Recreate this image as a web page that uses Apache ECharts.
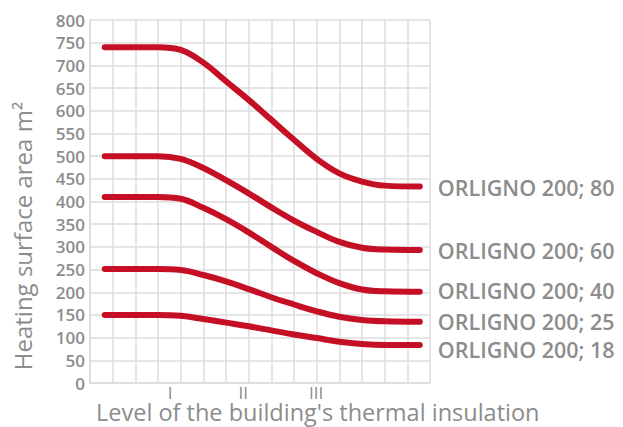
<!DOCTYPE html>
<html>
<head>
<meta charset="utf-8">
<script src="https://cdn.jsdelivr.net/npm/echarts@6/dist/echarts.min.js"></script>
<style>
html,body{margin:0;padding:0;background:#fff;}
#c{width:623px;height:427px;}
</style>
</head>
<body>
<div id="c"></div>
<script>
// Data
const xPositions = [0.65, 3, 4, 5, 6, 7, 8, 9, 10, 11, 12, 13, 14.55];
const seriesNames = ['ORLIGNO 200; 80', 'ORLIGNO 200; 60', 'ORLIGNO 200; 40', 'ORLIGNO 200; 25', 'ORLIGNO 200; 18'];
const orligno80 = [740, 740, 734, 706, 665, 624, 580, 536, 494, 462, 444, 435, 433];
const orligno60 = [500, 500, 494, 474, 447, 418, 387, 358, 333, 311, 298, 294, 293];
const orligno40 = [410, 410, 406, 386, 361, 332, 300, 269, 242, 220, 206, 202, 201];
const orligno25 = [251, 251, 249, 238, 224, 207, 189, 173, 158, 146, 139, 136, 135];
const orligno18 = [150, 150, 148, 141, 133, 125, 116, 107, 99, 91, 86, 84, 84];
const levelLabels = ['I', 'II', 'III'];
const levelValues = [3.53, 6.76, 9.98];
const yTitle = 'Heating surface area m²';
const xTitle = "Level of the building's thermal insulation";

const seriesValues = [orligno80, orligno60, orligno40, orligno25, orligno18];
const labelOffsets = [[0, 1], [0, 0], [0, -1], [0, 0], [0, 5]];

const grey = '#8c8c8c';
const red = '#c50f24';
const font = '"Open Sans", "Noto Sans", sans-serif';

const chart = echarts.init(document.getElementById('c'), null, {renderer: 'svg'});
chart.setOption({
  animation: false,
  backgroundColor: '#fff',
  grid: {left: 90, right: 193, top: 20, bottom: 44, containLabel: false},
  xAxis: {
    type: 'value', min: 0, max: 15, interval: 1,
    axisLine: {show: true, lineStyle: {color: '#dcdcdc', width: 1.5}},
    axisTick: {show: false},
    splitLine: {show: true, lineStyle: {color: '#dcdcdc', width: 1.5}},
    axisLabel: {
      customValues: levelValues,
      formatter: function (v) {
        const i = levelValues.indexOf(v);
        return i >= 0 ? levelLabels[i] : '';
      },
      color: grey, fontSize: 17, fontFamily: font, margin: 3, lineHeight: 13
    }
  },
  yAxis: {
    type: 'value', min: 0, max: 800, interval: 50,
    axisLine: {show: true, lineStyle: {color: '#dcdcdc', width: 1.5}},
    axisTick: {show: false},
    splitLine: {show: true, lineStyle: {color: '#dcdcdc', width: 1.5}},
    axisLabel: {color: grey, fontSize: 17, fontWeight: 600, fontFamily: font, margin: 5}
  },
  graphic: [
    {type: 'text', x: 34, y: 236, rotation: Math.PI / 2,
     style: {text: yTitle, fill: grey, font: '24px ' + font, textAlign: 'center', textVerticalAlign: 'bottom'}},
    {type: 'text', x: 96, y: 412,
     style: {text: xTitle, fill: grey, font: '23.5px ' + font, textAlign: 'left', textVerticalAlign: 'middle', lineHeight: 18}}
  ],
  series: seriesNames.map((name, i) => ({
    name: name,
    type: 'line',
    data: xPositions.map((x, j) => [x, seriesValues[i][j]]),
    smooth: 0.4,
    symbol: 'none',
    lineStyle: {color: red, width: 6, cap: 'round', join: 'round'},
    endLabel: {
      show: true, formatter: name, color: grey, fontSize: 21.5, fontWeight: 600,
      fontFamily: font, distance: 18, offset: labelOffsets[i]
    }
  }))
});
</script>
</body>
</html>
